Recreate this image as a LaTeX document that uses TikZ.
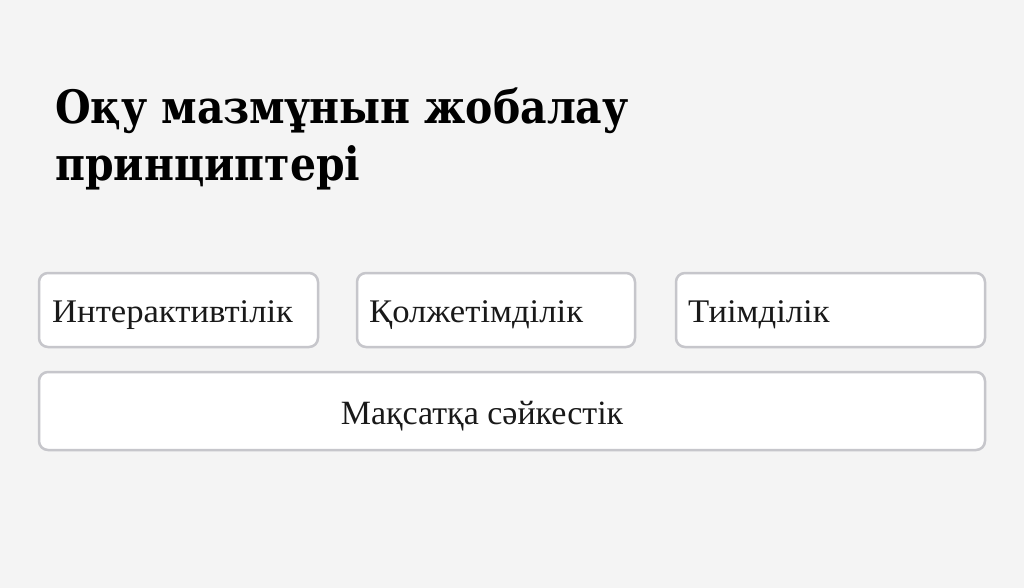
\documentclass[tikz,border=0pt]{standalone}
\usepackage{fontspec}
\setmainfont{Liberation Serif}
\newfontfamily\titlefont[FakeStretch=0.89]{DejaVu Serif}
\newfontfamily\widefont[FakeStretch=1.05]{Liberation Serif}
\definecolor{bgcol}{HTML}{F4F4F4}
\definecolor{edgecol}{HTML}{C6C6CB}
\tikzset{
  card/.style={draw=edgecol, line width=2.5pt, fill=white, rounded corners=9pt},
  cardtext/.style={anchor=base west, inner sep=0pt, font=\widefont\fontsize{33}{38}\selectfont, text=black!90},
  titletext/.style={anchor=base west, inner sep=0pt, font=\titlefont\bfseries\fontsize{46}{54}\selectfont, text=black}
}
\begin{document}
\begin{tikzpicture}[x=1pt,y=-1pt]
\useasboundingbox (0,0) rectangle (1024,588);
\fill[bgcol] (0,0) rectangle (1024,588);
\node[titletext] (t1) at (55,124) {Оқу мазмұнын жобалау};
\node[titletext] (t2) at (55,180) {принциптері};
\draw[card] (39,273) rectangle (318,347);
\draw[card] (357,273) rectangle (635,347);
\draw[card] (676,273) rectangle (985,347);
\draw[card] (39,372) rectangle (985,450);
\node[cardtext] (a) at (52,322) {Интерактивтілік};
\node[cardtext] (b) at (369,322) {Қолжетімділік};
\node[cardtext] (c) at (688,322) {Тиімділік};
\node[cardtext, anchor=base, font=\fontsize{34}{38}\selectfont] (d) at (482,424) {Мақсатқа сәйкестік};
\end{tikzpicture}
\end{document}
